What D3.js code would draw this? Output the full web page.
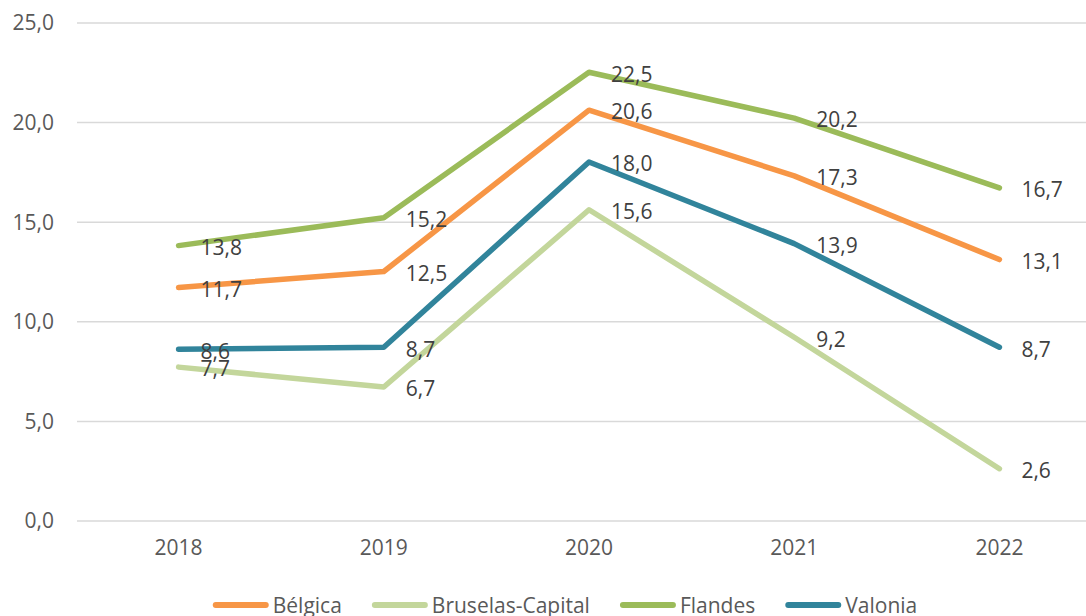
<!DOCTYPE html>
<html lang="es">
<head>
  <meta charset="UTF-8">
  <title>Regiones</title>
  <script src="https://cdn.jsdelivr.net/npm/d3@7"></script>
  <style>
    body { margin: 0; background: #fff; }
    svg text { font-family: "Open Sans", sans-serif; }
  </style>
</head>
<body>
  <svg id="svg" width="1086" height="616"></svg>

  <script>
    // Data
    const years = ['2018', '2019', '2020', '2021', '2022']
    const belgica = [11.7, 12.5, 20.6, 17.3, 13.1]
    const bruselas = [7.7, 6.7, 15.6, 9.2, 2.6]
    const flandes = [13.8, 15.2, 22.5, 20.2, 16.7]
    const valonia = [8.6, 8.7, 18.0, 13.9, 8.7]
    const seriesNames = ['Bélgica', 'Bruselas-Capital', 'Flandes', 'Valonia']
    const yTicks = [0, 5, 10, 15, 20, 25]

    const series = [
      { name: seriesNames[0], values: belgica, color: '#F79646' },
      { name: seriesNames[1], values: bruselas, color: '#C3D69B' },
      { name: seriesNames[2], values: flandes, color: '#9BBB59' },
      { name: seriesNames[3], values: valonia, color: '#31849B' }
    ]

    const fmt = v => d3.format('.1f')(v).replace('.', ',')

    const svg = d3.select('#svg')

    const xscale = d3.scaleBand()
      .domain(years)
      .range([76, 1102])

    const yscale = d3.scaleLinear()
      .domain([0, 25])
      .range([520.5, 22.5])

    const xc = d => xscale(d) + xscale.bandwidth() / 2

    // gridlines + y labels
    const yAxis = svg.append('g')
      .attr('transform', 'translate(77,0)')
      .call(d3.axisLeft(yscale).tickValues(yTicks).tickFormat(fmt)
        .tickSize(-1030).tickPadding(23))
    yAxis.select('.domain').remove()
    yAxis.selectAll('line').attr('stroke', '#D9D9D9').attr('stroke-width', 1.5)
    yAxis.selectAll('text')
      .attr('fill', '#595959')
      .attr('font-size', 21)
      .attr('dy', '0.35em')

    // x labels
    const xAxis = svg.append('g')
      .attr('transform', 'translate(0,520.5)')
      .call(d3.axisBottom(xscale).tickSize(0).tickPadding(20))
    xAxis.select('.domain').remove()
    xAxis.selectAll('text')
      .attr('fill', '#595959')
      .attr('font-size', 21)
      .attr('dy', '0.71em')

    const line = d3.line()
      .x((d, i) => xc(years[i]))
      .y(d => yscale(d))

    series.forEach(s => {
      svg.append('path')
        .datum(s.values)
        .attr('fill', 'none')
        .attr('stroke', s.color)
        .attr('stroke-width', 5.5)
        .attr('stroke-linecap', 'round')
        .attr('stroke-linejoin', 'round')
        .attr('d', line)
    })

    // data labels, right of each point
    series.forEach(s => {
      svg.append('g')
        .selectAll('text')
        .data(s.values)
        .join('text')
        .attr('x', (d, i) => xc(years[i]) + 22)
        .attr('y', d => yscale(d) + 2)
        .attr('dy', '0.35em')
        .attr('fill', '#404040')
        .attr('font-size', 21)
        .text(fmt)
    })

    // legend
    const legend = svg.append('g')
    let x = 0
    series.forEach((s, i) => {
      const g = legend.append('g').attr('transform', `translate(${x},0)`)
      g.append('line')
        .attr('x1', 3).attr('x2', 53)
        .attr('y1', 605).attr('y2', 605)
        .attr('stroke', s.color)
        .attr('stroke-width', 6)
        .attr('stroke-linecap', 'round')
      const t = g.append('text')
        .attr('x', 60)
        .attr('y', 613)
        .attr('fill', '#595959')
        .attr('font-size', 21)
        .text(s.name)
      x += 60 + t.node().getComputedTextLength() + 30
    })
    const total = x - 30
    legend.attr('transform', `translate(${565 - total / 2},0)`)
  </script>
</body>
</html>
